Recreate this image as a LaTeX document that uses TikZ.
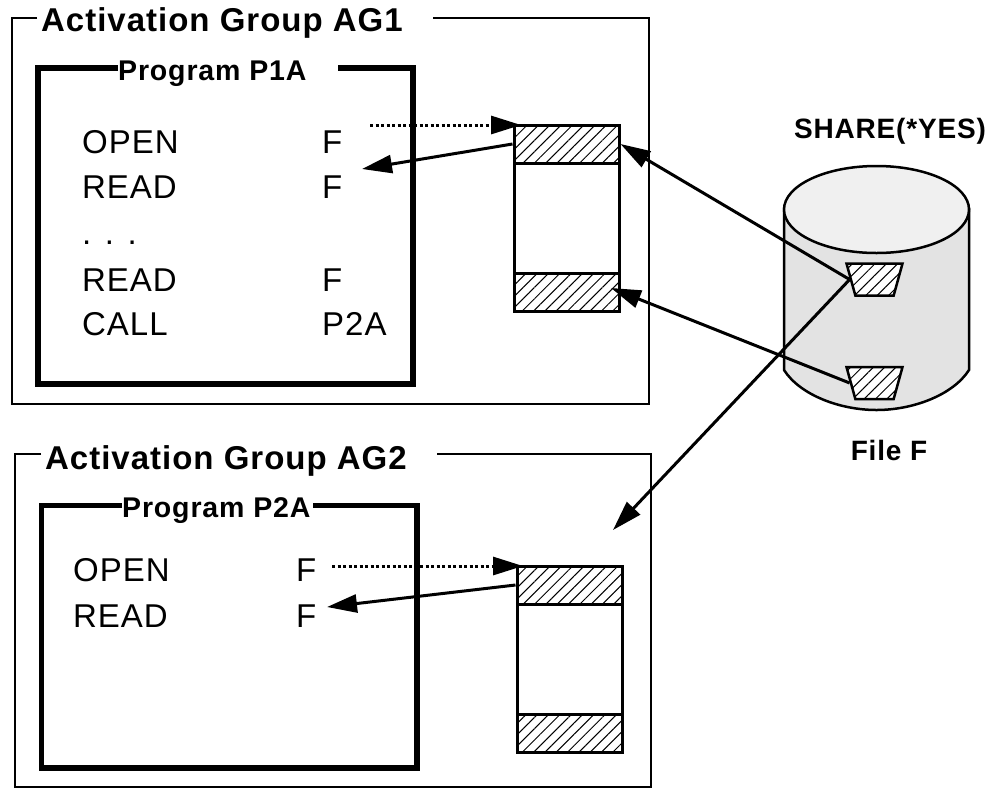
\documentclass[tikz,border=0pt]{standalone}
\usepackage{fontspec}
\setmainfont{Liberation Sans}
\newfontfamily\widefont[LetterSpace=3]{Liberation Sans}
\usetikzlibrary{arrows.meta,patterns.meta,shapes.geometric}

\begin{document}
\begin{tikzpicture}[x=1pt,y=-1pt,>={Triangle[length=30pt,width=18pt]},
  group frame/.style={line width=2.5pt},
  prog frame/.style={line width=5.5pt,line join=miter},
  group title/.style={inner sep=0pt,anchor=west,font=\widefont\fontsize{33}{38}\selectfont\bfseries},
  prog title/.style={inner sep=0pt,anchor=west,font=\widefont\fontsize{28.5}{32}\selectfont\bfseries},
  code/.style={inner sep=0pt,anchor=base west,font=\widefont\fontsize{33}{38}\selectfont},
  side label/.style={inner sep=0pt,font=\widefont\fontsize{28}{32}\selectfont\bfseries},
  hatch/.style={preaction={fill=white},pattern={Lines[angle=45,distance=8pt,line width=1pt]}},
  record/.style={draw,hatch,line width=3pt,rectangle,inner sep=0pt,minimum width=105pt,minimum height=38pt},
  buffer/.style={draw,line width=3pt,rectangle,inner sep=0pt,minimum width=105pt,minimum height=186pt},
  disk record/.style={draw,hatch,line width=2.5pt,trapezium,shape border rotate=180,trapezium stretches=true,
    trapezium left angle=77,trapezium right angle=77,inner sep=1pt,minimum width=56pt,minimum height=32pt},
  link/.style={->,line width=3pt},
  open link/.style={->,line width=3pt,dash pattern=on 3pt off 2.5pt}]

  \useasboundingbox (0,0) rectangle (1000,788);

  % activation group 1
  \draw[group frame] (37,18) -| (12,404) -| (649,18) -- (433,18);
  \node[group title] (ag1) at (41,23) {Activation Group AG1};
  \draw[prog frame] (118,68) -| (38,384) -| (413,68) -- (338,68);
  \node[prog title] (p1a) at (118,74) {Program P1A};

  \node[code] (open1) at (82,153) {OPEN};
  \node[code] (read1) at (82,198) {READ};
  \node[code] (dots1) at (82,244) {. . .};
  \node[code] (read2) at (82,291) {READ};
  \node[code] (call1) at (82,335) {CALL};
  \node[code] (f1) at (322,153) {F};
  \node[code] (f2) at (322,198) {F};
  \node[code] (f3) at (322,291) {F};
  \node[code] (p2a1) at (322,335) {P2A};

  \node[buffer] (buf1) at (566.5,218) {};
  \node[record] (rec1) at (566.5,144) {};
  \node[record] (rec2) at (566.5,292) {};

  % activation group 2
  \draw[group frame] (41,454) -| (15,787) -| (651,454) -- (437,454);
  \node[group title] (ag2) at (45,461) {Activation Group AG2};
  \draw[prog frame] (122,505.5) -| (41.5,768) -| (417,505.5) -- (313,505.5);
  \node[prog title] (p2a) at (122,511) {Program P2A};

  \node[code] (open2) at (73,581) {OPEN};
  \node[code] (read2a) at (73,627) {READ};
  \node[code] (f4) at (296,581) {F};
  \node[code] (f5) at (296,627) {F};

  \node[buffer] (buf2) at (569.5,659) {};
  \node[record] (rec3) at (569.5,585) {};
  \node[record] (rec4) at (569.5,733.5) {};

  % file
  \draw[line width=2.5pt,fill=black!11] (784,209) -- (784,370) .. controls (800,395) and (840,410) .. (876.5,410)
    .. controls (913,410) and (953,395) .. (969,370) -- (969,209) -- cycle;
  \node[draw,ellipse,line width=2.5pt,fill=black!6,inner sep=0pt,minimum width=185pt,minimum height=87pt] (disk) at (876.5,209.5) {};
  \node[disk record] (drec1) at (874.5,279.5) {};
  \node[disk record] (drec2) at (874.5,383) {};
  \node[side label] (share) at (890,131) {SHARE(*YES)};
  \node[side label] (filef) at (889,450) {File F};

  % free ends of the arrows
  \coordinate (dot1) at (370,125);
  \coordinate (dot1e) at (521,125);
  \coordinate (back1) at (362,169);
  \coordinate (tip2) at (611,288);
  \coordinate (tip3) at (613,530);
  \coordinate (dot2) at (332,566);
  \coordinate (dot2e) at (523,566);
  \coordinate (back2) at (327,607);

  \path[link]
    (rec1.west) edge (back1)
    (drec1.west) edge (rec1.east)
    (drec2.west) edge (tip2)
    (drec1.west) edge (tip3)
    (rec3.west) edge (back2);
  \draw[open link] (dot1) -- (dot1e);
  \draw[open link] (dot2) -- (dot2e);
\end{tikzpicture}
\end{document}
